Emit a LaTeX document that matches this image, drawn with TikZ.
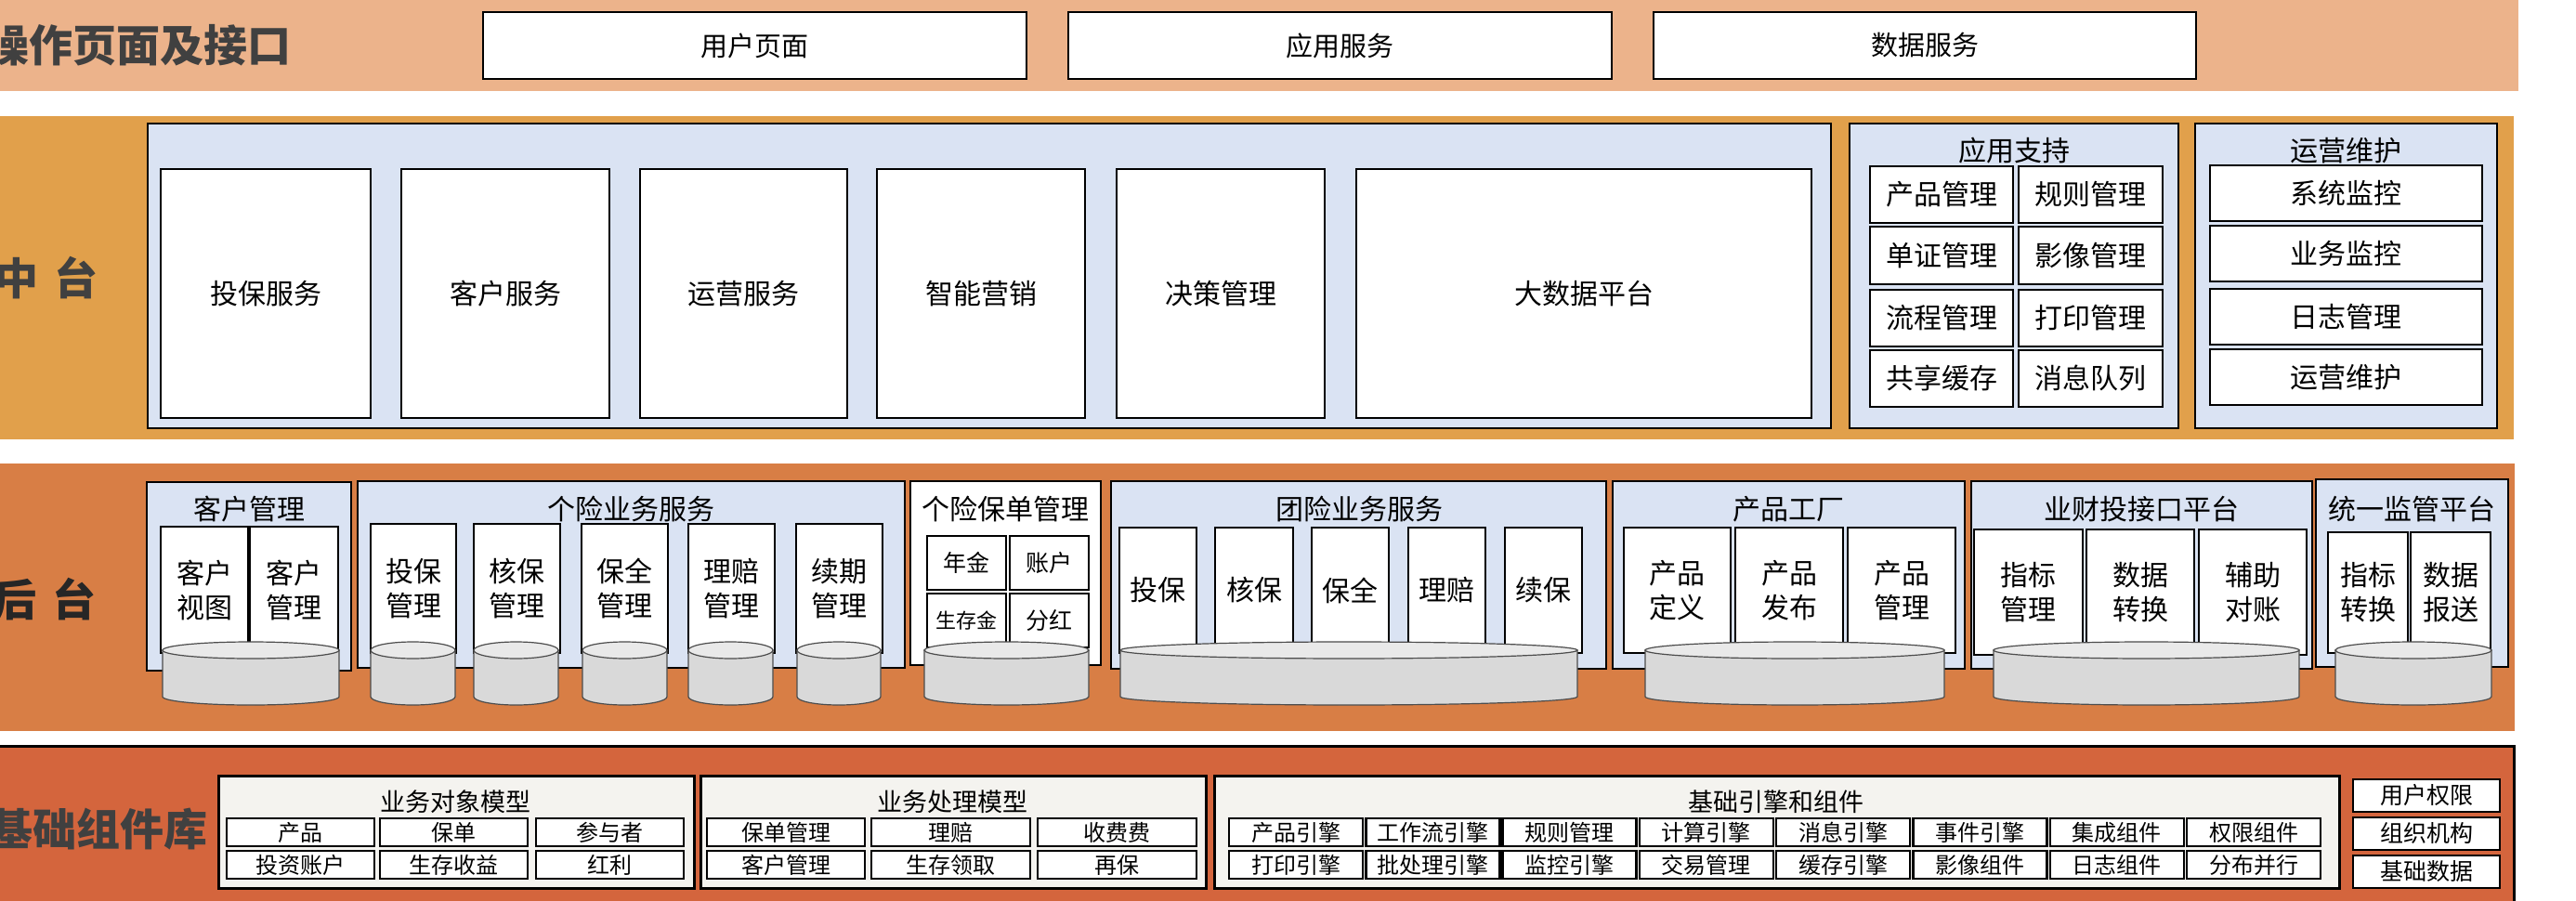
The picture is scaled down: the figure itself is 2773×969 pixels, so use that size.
\documentclass[tikz,border=0pt]{standalone}
\usepackage{fontspec}
\setmainfont{Noto Sans CJK SC}
\definecolor{bandA}{HTML}{ECB38B}
\definecolor{bandB}{HTML}{E1A04B}
\definecolor{bandC}{HTML}{D87E45}
\definecolor{bandD}{HTML}{D4653D}
\definecolor{lblue}{HTML}{DAE3F3}
\definecolor{offw}{HTML}{F4F3EF}
\definecolor{tgray}{HTML}{404040}
\definecolor{cylbody}{HTML}{D9D9D9}
\definecolor{cyltop}{HTML}{E9E9E9}
\newcommand\bx[6]{\node[#1,anchor=north west,minimum width={(#4)-(#2)},minimum height={(#5)-(#3)}] at (#2,#3) {#6};}
\newcommand\cyl[3]{%
  \pgfmathsetmacro\cx{(#1+#2)/2}\pgfmathsetmacro\rx{(#2-#1)/2}%
  \filldraw[cylline,fill=cylbody] (#1,700) -- (#1,750) arc[start angle=180,end angle=360,x radius=\rx pt,y radius=9pt] -- (#2,700) -- cycle;
  \filldraw[cylline,fill=cyltop] (\cx,700) coordinate (#3) ellipse[x radius=\rx pt,y radius=9pt];}
\tikzset{
  band/.style={draw=none,inner sep=0pt,outer sep=0pt},
  box/.style={draw=black,line width=2.5pt,fill=white,inner sep=0pt,outer sep=0pt,align=center,font=\fontsize{30}{37}\selectfont},
  topbox/.style={box,font=\fontsize{29}{34}\selectfont},
  cont/.style={draw=black,line width=2.5pt,fill=lblue,inner sep=0pt,outer sep=0pt},
  wcont/.style={cont,fill=white},
  ocont/.style={cont,fill=offw,line width=3pt},
  ctitle/.style={inner sep=0pt,font=\fontsize{30}{36}\selectfont},
  otitle/.style={inner sep=0pt,font=\fontsize{27}{32}\selectfont},
  smallbox/.style={box,font=\fontsize{25}{30}\selectfont},
  tinybox/.style={box,font=\fontsize{24}{28}\selectfont},
  bandtitle/.style={inner sep=0pt,anchor=east,text=tgray,font=\fontsize{47}{52}\selectfont\bfseries},
  cylline/.style={draw=black!70,line width=1.2pt}
}
\begin{document}
\begin{tikzpicture}[x=1pt,y=-1pt]
\useasboundingbox (0,0) rectangle (2773,969);
% ---------- bands ----------
\bx{band,fill=bandA,name=bandA}{0}{0}{2711}{98}{}
\bx{band,fill=bandB,name=bandB}{0}{125}{2706}{473}{}
\bx{band,fill=bandC,name=bandC}{0}{499}{2707}{787}{}
\bx{band,fill=bandD,name=bandD}{0}{803}{2706}{975}{}
\draw[line width=3pt] (-5,803) -- (2706,803) -- (2706,975);
% ---------- band A ----------
\node[bandtitle] (tA) at (314,49) {操作页面及接口};
\bx{topbox,name=a1}{520}{13}{1105}{85}{用户页面}
\bx{topbox,name=a2}{1150}{13}{1735}{85}{应用服务}
\bx{topbox,name=a3}{1780}{13}{2364}{85}{数据服务}
% ---------- band B ----------
\node[bandtitle] (tB) at (106,299) {中\hspace{17pt}台};
\bx{cont,name=mid}{159}{133}{1971}{461}{}
\bx{box,name=b1}{173}{182}{399}{450}{投保服务}
\bx{box,name=b2}{432}{182}{656}{450}{客户服务}
\bx{box,name=b3}{689}{182}{912}{450}{运营服务}
\bx{box,name=b4}{944}{182}{1168}{450}{智能营销}
\bx{box,name=b5}{1202}{182}{1426}{450}{决策管理}
\bx{box,name=b6}{1460}{182}{1950}{450}{大数据平台}
\bx{cont,name=yyzc}{1991}{133}{2345}{461}{}
\node[ctitle] (yyzct) at (2168,162) {应用支持};
\bx{box,name=s11}{2013}{179}{2167}{240}{产品管理}
\bx{box,name=s12}{2173}{179}{2328}{240}{规则管理}
\bx{box,name=s21}{2013}{244}{2167}{306}{单证管理}
\bx{box,name=s22}{2173}{244}{2328}{306}{影像管理}
\bx{box,name=s31}{2013}{312}{2167}{373}{流程管理}
\bx{box,name=s32}{2173}{312}{2328}{373}{打印管理}
\bx{box,name=s41}{2013}{377}{2167}{438}{共享缓存}
\bx{box,name=s42}{2173}{377}{2328}{438}{消息队列}
\bx{cont,name=yywh}{2363}{133}{2688}{461}{}
\node[ctitle] (yywht) at (2525,162) {运营维护};
\bx{box,name=w1}{2379}{178}{2672}{238}{系统监控}
\bx{box,name=w2}{2379}{243}{2672}{303}{业务监控}
\bx{box,name=w3}{2379}{311}{2672}{371}{日志管理}
\bx{box,name=w4}{2379}{376}{2672}{436}{运营维护}
% ---------- band C ----------
\node[bandtitle,text=black!85] (tC) at (104,645) {后\hspace{17pt}台};
\bx{cont,name=c1}{158}{519}{378}{722}{}
\node[ctitle] (c1t) at (268,548) {客户管理};
\bx{cont,name=c2}{385}{518}{974}{719}{}
\node[ctitle] (c2t) at (679,548) {个险业务服务};
\bx{wcont,name=c3}{980}{518}{1185}{716}{}
\node[ctitle] (c3t) at (1082,548) {个险保单管理};
\bx{cont,name=c4}{1196}{518}{1729}{720}{}
\node[ctitle] (c4t) at (1463,548) {团险业务服务};
\bx{cont,name=c5}{1736}{518}{2115}{720}{}
\node[ctitle] (c5t) at (1925,548) {产品工厂};
\bx{cont,name=c6}{2122}{518}{2489}{720}{}
\node[ctitle] (c6t) at (2305,548) {业财投接口平台};
\bx{cont,name=c7}{2493}{516}{2700}{718}{}
\node[ctitle] (c7t) at (2596,548) {统一监管平台};
% inner boxes
\bx{box,name=k1}{173}{567}{267}{703}{客户\\视图}
\bx{box,name=k2}{269}{567}{364}{703}{客户\\管理}
\bx{box,name=g1}{399}{564}{491}{703}{投保\\管理}
\bx{box,name=g2}{510}{564}{603}{703}{核保\\管理}
\bx{box,name=g3}{626}{564}{719}{703}{保全\\管理}
\bx{box,name=g4}{741}{564}{834}{703}{理赔\\管理}
\bx{box,name=g5}{857}{564}{950}{703}{续期\\管理}
\bx{box,font=\fontsize{25}{30}\selectfont,name=p1}{998}{577}{1083}{635}{年金}
\bx{box,font=\fontsize{25}{30}\selectfont,name=p2}{1087}{577}{1172}{635}{账户}
\bx{box,font=\fontsize{22}{26}\selectfont,name=p3}{998}{639}{1083}{697}{生存金}
\bx{box,font=\fontsize{25}{30}\selectfont,name=p4}{1087}{639}{1172}{697}{分红}
\bx{box,name=t1}{1205}{568}{1288}{703}{投保}
\bx{box,name=t2}{1308}{568}{1392}{703}{核保}
\bx{box,name=t3}{1412}{568}{1495}{703}{保全}
\bx{box,name=t4}{1516}{568}{1599}{703}{理赔}
\bx{box,name=t5}{1620}{568}{1703}{703}{续保}
\bx{box,name=f1}{1748}{568}{1863}{703}{产品\\定义}
\bx{box,name=f2}{1868}{568}{1984}{703}{产品\\发布}
\bx{box,name=f3}{1989}{568}{2105}{703}{产品\\管理}
\bx{box,name=j1}{2125}{570}{2242}{705}{指标\\管理}
\bx{box,name=j2}{2246}{570}{2362}{705}{数据\\转换}
\bx{box,name=j3}{2367}{570}{2483}{705}{辅助\\对账}
\bx{box,name=u1}{2506}{573}{2592}{703}{指标\\转换}
\bx{box,name=u2}{2595}{573}{2681}{703}{数据\\报送}
% cylinders
\cyl{175}{365}{db1}
\cyl{399}{490}{db2}
\cyl{510}{601}{db3}
\cyl{627}{718}{db4}
\cyl{741}{832}{db5}
\cyl{858}{948}{db6}
\cyl{995}{1172}{db7}
\cyl{1206}{1698}{db8}
\cyl{1771}{2093}{db9}
\cyl{2146}{2475}{db10}
\cyl{2514}{2682}{db11}
% ---------- band D ----------
\node[bandtitle] (tD) at (224,893) {基础组件库};
\bx{ocont,name=o1}{235}{835}{747}{956}{}
\node[otitle] (o1t) at (490,863) {业务对象模型};
\bx{ocont,name=o2}{754}{835}{1298}{956}{}
\node[otitle] (o2t) at (1025,863) {业务处理模型};
\bx{ocont,name=o3}{1307}{835}{2518}{956}{}
\node[otitle] (o3t) at (1912,863) {基础引擎和组件};
\bx{tinybox,name=m11}{244}{881}{403}{911}{产品}
\bx{tinybox,name=m12}{409}{881}{568}{911}{保单}
\bx{tinybox,name=m13}{577}{881}{736}{911}{参与者}
\bx{tinybox,name=m21}{244}{916}{403}{946}{投资账户}
\bx{tinybox,name=m22}{409}{916}{568}{946}{生存收益}
\bx{tinybox,name=m23}{577}{916}{736}{946}{红利}
\bx{tinybox,name=n11}{761}{881}{931}{911}{保单管理}
\bx{tinybox,name=n12}{938}{881}{1109}{911}{理赔}
\bx{tinybox,name=n13}{1117}{881}{1288}{911}{收费费}
\bx{tinybox,name=n21}{761}{916}{931}{946}{客户管理}
\bx{tinybox,name=n22}{938}{916}{1109}{946}{生存领取}
\bx{tinybox,name=n23}{1117}{916}{1288}{946}{再保}
\foreach \t [count=\i from 0] in {产品引擎,工作流引擎,规则管理,计算引擎,消息引擎,事件引擎,集成组件,权限组件}{
  \pgfmathsetmacro\xa{1323+147.3*\i}\pgfmathsetmacro\xb{\xa+144}
  \bx{tinybox,name=ea\i}{\xa}{881}{\xb}{911}{\t}}
\foreach \t [count=\i from 0] in {打印引擎,批处理引擎,监控引擎,交易管理,缓存引擎,影像组件,日志组件,分布并行}{
  \pgfmathsetmacro\xa{1323+147.3*\i}\pgfmathsetmacro\xb{\xa+144}
  \bx{tinybox,name=eb\i}{\xa}{916}{\xb}{946}{\t}}
\bx{smallbox,name=r1}{2533}{839}{2691}{874}{用户权限}
\bx{smallbox,name=r2}{2533}{880}{2691}{915}{组织机构}
\bx{smallbox,name=r3}{2533}{921}{2691}{956}{基础数据}
\end{tikzpicture}
\end{document}
